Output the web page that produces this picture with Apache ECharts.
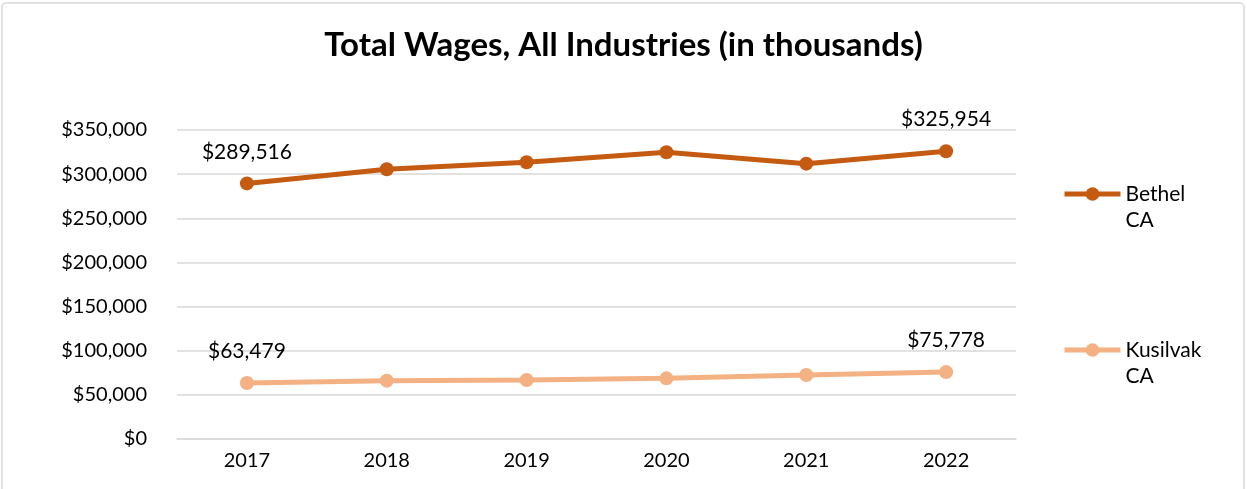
<!DOCTYPE html>
<html><head><meta charset="utf-8">
<script src="https://cdn.jsdelivr.net/npm/echarts@6/dist/echarts.min.js"></script>
<style>html,body{margin:0;padding:0;background:#fff}#c{width:1247px;height:489px}</style>
</head><body><div id="c"></div>
<script>
const title = 'Total Wages, All Industries (in thousands)';
const years = ['2017','2018','2019','2020','2021','2022'];
const bethel = [289516, 305500, 313400, 324800, 311900, 325954];
const kusilvak = [63479, 66100, 66800, 68700, 72500, 75778];
const seriesNames = ['Bethel CA', 'Kusilvak CA'];
const colors = ['#C55A11', '#F4B183'];
const yTicks = {min: 0, max: 350000, interval: 50000};

const fmt = v => '$' + Math.round(v).toLocaleString('en-US');
const font = 'Lato, "Open Sans", sans-serif';
const chart = echarts.init(document.getElementById('c'));

function mkSeries(name, data, color) {
  return {
    name, type: 'line', data,
    symbol: 'circle', symbolSize: 14,
    lineStyle: {color, width: 5},
    itemStyle: {color},
    label: {
      show: true, position: 'top', distance: 14,
      fontFamily: font, fontSize: 21, color: '#000',
      formatter: p => (p.dataIndex === 0 || p.dataIndex === data.length - 1) ? fmt(p.value) : ''
    },
    animation: false
  };
}
function mkLegend(name, top) {
  return {
    data: [name], orient: 'vertical', left: 1057, top,
    itemWidth: 56, itemHeight: 17, itemGap: 0,
    lineStyle: {width: 5},
    formatter: n => '\n' + n.replace(' ', '\n'),
    textStyle: {fontFamily: font, fontSize: 21, color: '#000', lineHeight: 26},
    selectedMode: false
  };
}

chart.setOption({
  animation: false,
  title: {
    text: title, left: 'center', top: 24,
    textStyle: {fontFamily: font, fontSize: 33, fontWeight: 'bold', color: '#000'}
  },
  graphic: [{type: 'rect', shape: {x: 2, y: 3, width: 1242, height: 520, r: 4},
    style: {fill: 'none', stroke: '#d9d9d9', lineWidth: 1.5}, z: -1}],
  legend: [mkLegend(seriesNames[0], 150), mkLegend(seriesNames[1], 306)],
  grid: {left: 177, right: 231, top: 130, bottom: 50, containLabel: false},
  xAxis: {
    type: 'category', data: years, boundaryGap: true,
    axisLine: {lineStyle: {color: '#d9d9d9', width: 1.5}},
    axisTick: {show: false},
    axisLabel: {fontFamily: font, fontSize: 20, color: '#000', margin: 12}
  },
  yAxis: {
    type: 'value', min: yTicks.min, max: yTicks.max, interval: yTicks.interval,
    axisLine: {show: false}, axisTick: {show: false},
    splitLine: {lineStyle: {color: '#d9d9d9', width: 1.5}},
    axisLabel: {fontFamily: font, fontSize: 20, color: '#000', margin: 30, formatter: fmt}
  },
  series: [mkSeries(seriesNames[0], bethel, colors[0]), mkSeries(seriesNames[1], kusilvak, colors[1])]
});
</script></body></html>
